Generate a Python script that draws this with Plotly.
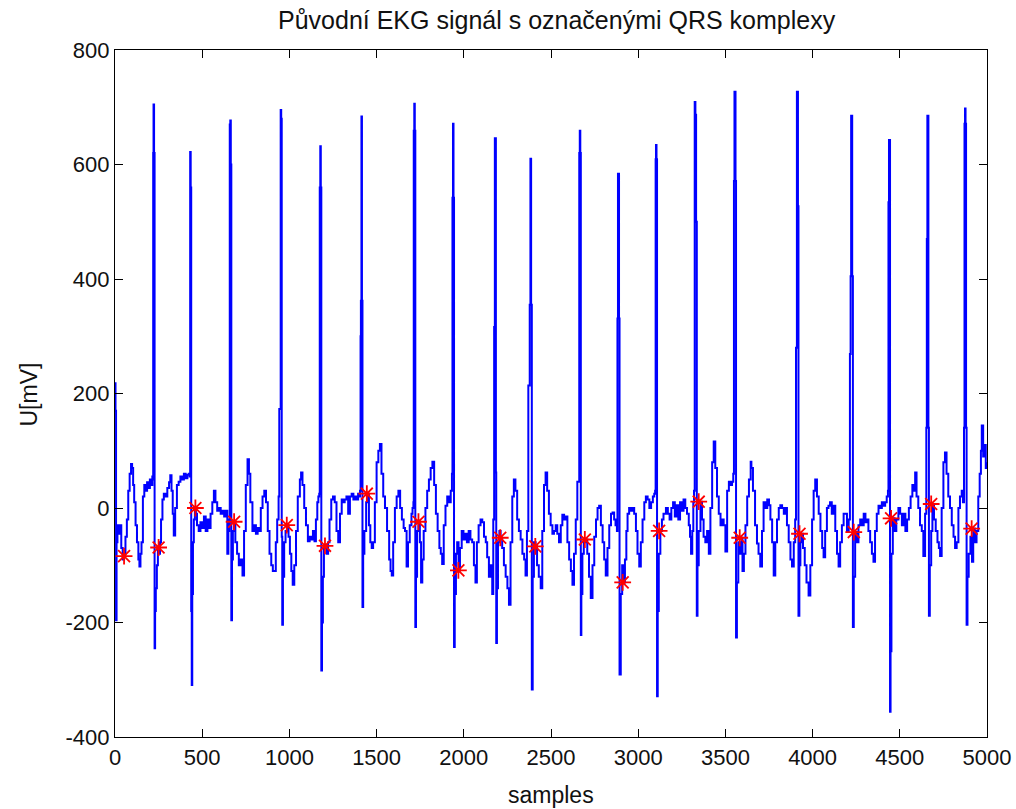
import plotly.graph_objects as go

# ---- ECG trace vertices (sample index, U[mV]), beat by beat ----
sample_idx = [
    0, 3, 6, 9, 14, 20, 28, 36, 44, 52, 60, 68, 76, 84, 92, 98, 104, 110, 118, 126, 134, 140, 146, 152, 160, 168, 176, 184, 192, 200, 208, 214,
    217, 219, 221, 224, 227, 230, 234, 240, 246, 252, 258, 264, 272, 280, 290, 300, 310, 317, 324, 331, 337, 345, 355, 365, 375, 385, 395, 405, 415, 423,
    428, 431, 434, 437, 440, 443, 447, 452, 458, 464, 470, 480, 490, 500, 510, 520, 530, 540, 548, 558, 567, 576, 586, 596, 606, 616, 626, 635, 644, 650,
    655, 658, 661, 664, 667, 671, 676, 683, 690, 700, 710, 720, 731, 740, 750, 760, 768, 776, 788, 798, 808, 818, 827, 836, 846, 856, 866, 876, 886, 896, 905, 913, 922, 930, 938,
    942, 946, 950, 953, 956, 959, 963, 970, 978, 987, 995, 1003, 1011, 1019, 1028, 1038, 1048, 1060, 1067, 1075, 1085, 1095, 1106, 1116, 1126, 1135, 1144, 1152, 1160, 1166, 1171,
    1174, 1177, 1180, 1183, 1187, 1192, 1198, 1206, 1214, 1222, 1230, 1240, 1250, 1260, 1270, 1280, 1290, 1300, 1310, 1317, 1327, 1337, 1347, 1357, 1367, 1377, 1387, 1394, 1400, 1405,
    1408, 1410, 1413, 1416, 1419, 1423, 1430, 1440, 1448, 1456, 1464, 1472, 1480, 1490, 1500, 1510, 1519, 1528, 1538, 1548, 1560, 1572, 1580, 1587, 1595, 1605, 1615, 1625, 1635, 1645, 1655, 1663, 1672, 1680, 1690, 1700, 1706,
    1711, 1713, 1716, 1719, 1722, 1726, 1732, 1740, 1748, 1755, 1762, 1770, 1780, 1790, 1800, 1810, 1820, 1830, 1840, 1850, 1860, 1868, 1876, 1885, 1895, 1905, 1915, 1925, 1932,
    1935, 1938, 1941, 1944, 1948, 1955, 1962, 1970, 1978, 1988, 1998, 2008, 2018, 2028, 2038, 2048, 2058, 2067, 2075, 2085, 2096, 2106, 2116, 2126, 2134, 2144, 2154, 2163, 2169,
    2174, 2178, 2181, 2184, 2186, 2190, 2196, 2204, 2211, 2220, 2230, 2240, 2250, 2259, 2268, 2278, 2287, 2296, 2306, 2316, 2326, 2336, 2346, 2354, 2362, 2370,
    2374, 2378, 2382, 2386, 2390, 2395, 2402, 2412, 2420, 2430, 2441, 2450, 2460, 2469, 2478, 2488, 2498, 2508, 2517, 2527, 2536, 2546, 2556, 2565, 2575, 2584, 2594, 2604, 2614, 2623, 2632, 2642, 2651, 2658,
    2662, 2665, 2668, 2671, 2674, 2680, 2688, 2699, 2708, 2718, 2728, 2738, 2748, 2758, 2767, 2776, 2786, 2796, 2805, 2814, 2824, 2834, 2844, 2853, 2862, 2870, 2878,
    2881, 2884, 2887, 2890, 2893, 2900, 2908, 2916, 2924, 2932, 2939, 2948, 2958, 2968, 2977, 2987, 2996, 3006, 3015, 3025, 3035, 3044, 3054, 3064, 3074, 3084, 3092, 3097,
    3100, 3102, 3105, 3108, 3112, 3118, 3127, 3136, 3145, 3159, 3170, 3180, 3190, 3200, 3210, 3220, 3230, 3240, 3250, 3260, 3270, 3280, 3290, 3297, 3303, 3310, 3316,
    3320, 3324, 3328, 3332, 3336, 3340, 3347, 3357, 3366, 3375, 3385, 3395, 3405, 3414, 3424, 3433, 3442, 3452, 3462, 3472, 3481, 3490, 3500, 3510, 3520, 3530, 3538, 3545,
    3549, 3552, 3555, 3558, 3561, 3566, 3574, 3583, 3592, 3598, 3606, 3615, 3625, 3635, 3645, 3649, 3658, 3670, 3681, 3690, 3700, 3710, 3719, 3730, 3740, 3750, 3758, 3768, 3777, 3786, 3796, 3806, 3815, 3825, 3835, 3843, 3853, 3863, 3873, 3882, 3892, 3900, 3905,
    3906, 3910, 3913, 3916, 3919, 3924, 3930, 3935, 3945, 3955, 3965, 3977, 3987, 3997, 4006, 4015, 4025, 4035, 4045, 4055, 4063, 4072, 4082, 4091, 4100, 4110, 4120, 4130, 4140, 4149, 4158, 4168, 4178, 4187, 4197, 4207, 4214,
    4218, 4221, 4224, 4227, 4231, 4236, 4244, 4253, 4263, 4273, 4283, 4293, 4303, 4312, 4320, 4330, 4340, 4349, 4358, 4368, 4378, 4387, 4397, 4406, 4416, 4425, 4432,
    4435, 4438, 4441, 4444, 4447, 4452, 4460, 4470, 4480, 4492, 4502, 4512, 4522, 4532, 4542, 4552, 4562, 4572, 4580, 4588, 4596, 4606, 4616, 4626, 4635, 4645, 4652,
    4655, 4658, 4661, 4664, 4667, 4672, 4680, 4687, 4696, 4706, 4716, 4724, 4731, 4740, 4750, 4759, 4768, 4778, 4788, 4798, 4808, 4817, 4826, 4836, 4845, 4855, 4862, 4868,
    4871, 4874, 4877, 4880, 4883, 4888, 4895, 4905, 4914, 4921, 4930, 4940, 4950, 4958, 4965, 4970, 4978, 4986, 4993, 5000,
]

u_mv = [
    218, 170, -196, -60, -30, -45, -30, -70, -90, -80, -50, -20, 30, 60, 77, 70, 40, 10, -30, -60, -90, -102, -80, -60, 20, 40, 30, 45, 35, 50, 40, 55,
    50, 620, 705, 620, -245, -180, -140, -100, -69, -80, -60, -20, 15, 25, 20, 35, 45, 57, 30, -10, -48, 0, 40, 46, 55, 50, 60, 52, 58, 60,
    55, 622, 560, -180, -309, -150, -60, -20, 0, -10, -30, -40, -25, -35, -15, -40, -20, -35, -10, 10, 30, 10, -5, 0, -10, -5, -15, -5, -80, -40,
    -20, 670, 677, 600, -196, -90, -40, -24, -60, -80, -100, -90, -118, -40, 40, 85, 60, 10, -40, -30, -45, -35, -40, 0, 20, 30, 10, -40, -80, -100, -110, -110, -60, -20, 20,
    173, 173, 695, 680, -50, -204, -120, -60, -40, -30, -50, -80, -110, -134, -100, -40, 20, 50, 62, 40, 0, -30, -58, -50, -55, -40, -58, -20, 10, 20, 25,
    560, 632, 560, -284, -200, -120, -70, -66, -80, -60, -20, 15, 20, 10, -40, -60, -10, 15, 10, 15, 20, -10, 20, 25, 15, 20, 15, 25, 20, 30,
    300, 362, 684, 362, -173, -80, -40, 10, 25, -30, -60, -70, -60, 10, 80, 100, 112, 60, 20, 0, -40, -90, -110, -118, -60, 0, 20, 30, 0, -20, -35, -40, -102, -60, -30, -10, 0,
    10, 659, 706, 659, -208, -120, -40, -24, -60, -130, -90, -40, 0, 30, 50, 70, 81, 40, -10, -40, -70, -80, -98, -30, 4, 20, 10, 30, 60,
    542, 671, 542, -243, -150, -80, -60, -109, -70, -40, -55, -45, -60, -40, -55, -60, -100, -130, -60, -30, -20, -25, -50, -60, -86, -120, -100, -150, -20,
    316, 646, 646, 62, -236, -140, -60, -40, -52, -70, -100, -120, -140, -169, -60, 20, 50, 30, -20, -40, -55, -80, -90, -118, -40, 214,
    214, 355, 610, 355, -317, -120, -60, -67, -100, -120, -140, -40, 40, 62, 30, -10, -30, -45, -40, -30, -45, -60, -30, -12, -20, -15, -60, -90, -110, -134, -80, -20, 46, 46,
    620, 659, 620, -222, -150, -80, -60, -55, -80, -120, -157, -100, -50, -20, 0, 4, -30, -60, -90, -118, -70, -30, -10, -8, -20, -30, -40,
    331, 584, 584, 331, -291, -150, -100, -130, -90, -40, -10, 0, -5, 0, -10, -40, -80, -102, -60, -20, 10, 20, 15, 0, 10, 20, 25, 30,
    609, 634, 609, -329, -180, -80, -40, -20, -10, 0, -10, -20, 0, 10, -15, 5, -20, 10, -5, 15, 0, -10, -30, -50, -80, -40, 10,
    30, 709, 687, 500, -188, -100, -40, 11, -20, -50, -60, -40, -80, 0, 80, 116, 70, 20, -10, -30, -20, -30, -76, 30, 46, 40, 46, 60,
    571, 727, 727, 571, -226, -130, -60, -80, -52, -110, -80, -30, 20, 50, 81, 70, 30, -30, -62, -80, -102, -40, 10, 0, 15, 5, -20, -60, -118, -60, -20, 0, 5, 0, -10, 0, -30, -60, -90, -102, -60, -20, 280,
    280, 727, 727, 527, -188, -100, -60, -45, -70, -100, -130, -153, -100, -20, 30, 50, 20, -10, -40, -70, -86, -40, 0, 4, 10, -10, 4, -40, -80, -102, -60, -30, -10, -10, -40, -20, 269,
    405, 685, 685, 405, -208, -120, -42, -60, -30, -20, -30, -10, -25, -20, -40, -60, -80, -94, -40, -10, 4, 0, 10, 4, 10, 20, 30,
    534, 643, 643, -356, -250, -80, -18, -40, -20, 0, -10, -30, -10, -40, -20, 0, 20, 40, 30, 62, 20, 0, -30, -40, -84, -10, 140,
    470, 685, 685, 140, -188, -100, -40, 7, -20, -40, -60, -70, -84, 0, 80, 97, 60, 20, 0, -30, -50, -70, -60, 0, 20, 30, 10, 140,
    671, 698, 671, 140, -204, -120, -80, -50, -94, -36, -60, -40, 20, 60, 100, 144, 90, 110, 70, 80,
]

# ---- detected QRS marks (sample index, U[mV]) ----
qrs_idx = [52, 250, 461, 683, 985, 1204, 1444, 1740, 1969, 2209, 2410, 2694, 2911, 3120, 3347, 3582, 3925, 4236, 4450, 4680, 4912]
qrs_mv = [-84, -69, 0, -24, -30, -66, 25, -24, -109, -52, -67, -55, -130, -40, 11, -52, -45, -42, -18, 7, -36]

x_ticks = [0, 500, 1000, 1500, 2000, 2500, 3000, 3500, 4000, 4500, 5000]
y_ticks = [-400, -200, 0, 200, 400, 600, 800]

title_text = "Původní EKG signál s označenými QRS komplexy"
x_label = "samples"
y_label = "U[mV]"

FONT = "Liberation Sans, Arial, sans-serif"
TXT = "#111111"

fig = go.Figure()
fig.add_trace(go.Scatter(
    x=sample_idx, y=u_mv, mode="lines",
    line=dict(color="#0000ff", width=2, shape="hv"),
    showlegend=False, hoverinfo="skip",
))
fig.add_trace(go.Scatter(
    x=qrs_idx, y=qrs_mv, mode="markers",
    marker=dict(symbol="asterisk-open", size=14, color="#ff0000",
                line=dict(color="#ff0000", width=1.8)),
    showlegend=False,
))

axis_common = dict(
    showline=True, linecolor="black", linewidth=1.3, mirror="ticks",
    ticks="inside", ticklen=8, tickcolor="black", tickwidth=1.2,
    showgrid=False, zeroline=False, automargin=False,
    tickfont=dict(family=FONT, size=22, color=TXT),
)

fig.update_layout(
    width=1016, height=809,
    margin=dict(l=115, r=29, t=50, b=72),
    paper_bgcolor="white", plot_bgcolor="white",
    xaxis=dict(range=[0, 5000], tickvals=x_ticks, ticktext=[str(v) for v in x_ticks], **axis_common),
    yaxis=dict(range=[-400, 800], tickvals=y_ticks, ticktext=[str(v) for v in y_ticks], **axis_common),
    annotations=[
        dict(text=title_text, xref="paper", yref="paper", x=0.5, xshift=6, y=1, yshift=30,
             xanchor="center", yanchor="middle", showarrow=False,
             font=dict(family=FONT, size=25, color=TXT)),
        dict(text=x_label, xref="paper", yref="paper", x=0.5, y=0, yshift=-58,
             xanchor="center", yanchor="middle", showarrow=False,
             font=dict(family=FONT, size=23, color=TXT)),
        dict(text=y_label, xref="paper", yref="paper", x=0, xshift=-87, y=0.5, yshift=-1,
             xanchor="center", yanchor="middle", showarrow=False, textangle=-90,
             font=dict(family=FONT, size=23, color=TXT)),
    ],
)

fig.write_html("out.html")
